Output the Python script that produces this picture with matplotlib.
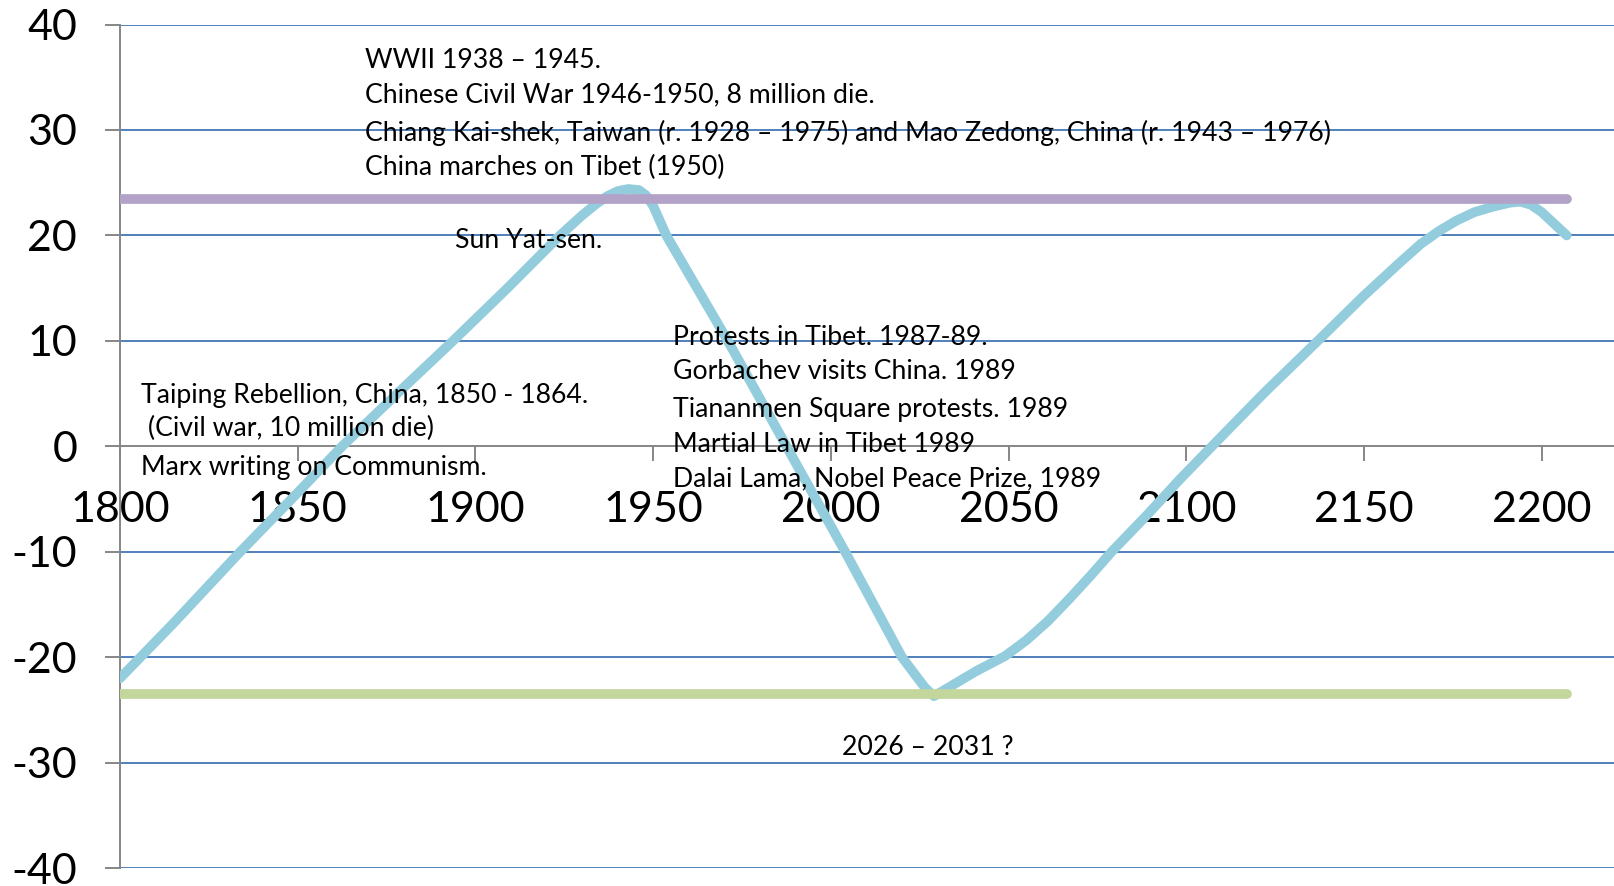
import matplotlib.pyplot as plt

# cycle curve
years = [1800, 1815, 1833, 1850, 1862.5, 1878, 1893.7, 1909, 1923.8, 1930, 1934, 1937,
         1940, 1943, 1946, 1948, 1950, 1953.7, 1971, 1987.5, 2004, 2020, 2024, 2026.5,
         2029, 2032, 2035, 2041, 2049, 2055, 2061, 2067, 2073, 2079, 2089, 2098,
         2107.5, 2122, 2137, 2150, 2160, 2166, 2171, 2176, 2181, 2186, 2191, 2194,
         2197, 2200, 2207]
values = [-22.0, -16.8, -10.3, -4.4, 0.0, 5.0, 10.0, 15.0, 20.0, 21.9, 23.0, 23.7,
          24.2, 24.4, 24.3, 23.8, 22.8, 20.0, 10.0, 0.0, -10.0, -20.0, -21.8, -22.9,
          -23.7, -23.1, -22.5, -21.3, -19.9, -18.4, -16.6, -14.5, -12.3, -10.0, -6.5, -3.2,
          0.1, 5.1, 10.0, 14.3, 17.4, 19.2, 20.4, 21.4, 22.2, 22.7, 23.1, 23.2,
          22.9, 22.2, 20.0]

band_x = [1800, 2207]
upper = [23.5, 23.5]
lower = [-23.5, -23.5]

x_ticks = [1800, 1850, 1900, 1950, 2000, 2050, 2100, 2150, 2200]
y_ticks = [-40, -30, -20, -10, 0, 10, 20, 30, 40]

# (x year, y value, text)
notes = [
    (1869.0, 36.6, 'WWII 1938 \u2013 1945.'),
    (1869.0, 33.3, 'Chinese Civil War 1946-1950, 8 million die.'),
    (1869.0, 29.7, 'Chiang Kai-shek, Taiwan (r. 1928 \u2013 1975) and Mao Zedong, China (r. 1943 \u2013 1976)'),
    (1869.0, 26.4, 'China marches on Tibet (1950)'),
    (1894.2, 19.5, 'Sun Yat-sen.'),
    (1955.7, 10.3, 'Protests in Tibet. 1987-89.'),
    (1955.7, 7.1, 'Gorbachev visits China. 1989'),
    (1955.7, 3.5, 'Tiananmen Square protests. 1989'),
    (1955.7, 0.15, 'Martial Law in Tibet 1989'),
    (1955.7, -3.05, 'Dalai Lama, Nobel Peace Prize, 1989'),
    (1805.9, 4.8, 'Taiping Rebellion, China, 1850 - 1864.'),
    (1805.9, 1.7, ' (Civil war, 10 million die)'),
    (1805.9, -2.0, 'Marx writing on Communism.'),
    (2003.0, -28.6, '2026 \u2013 2031 ?'),
]

plt.rcParams['font.family'] = ['Lato', 'DejaVu Sans']
plt.rcParams['axes.unicode_minus'] = False

fig = plt.figure(figsize=(16.15, 8.86), dpi=100)
ax = fig.add_axes([0.0743, 0.0203, 0.9257, 0.952])

ax.plot(years, values, color='#93CDDD', lw=7, solid_capstyle='round',
        solid_joinstyle='round', zorder=3)
ax.plot(band_x, upper, color='#B3A2C7', lw=7, solid_capstyle='round', zorder=4)
ax.plot(band_x, lower, color='#C3D69B', lw=7, solid_capstyle='round', zorder=4)

for x, y, s in notes:
    ax.text(x, y, s, fontsize=19.2, va='center', ha='left', color='black', zorder=5)

ax.set_xlim(1800, 2220.6)
ax.set_ylim(-40, 40)
ax.set_xticks(x_ticks)
ax.set_yticks(y_ticks)

for v in y_ticks:
    if v != 0:
        ax.axhline(v, color='#4F81BD', lw=1.4, zorder=1)

for side in ['top', 'right']:
    ax.spines[side].set_visible(False)
ax.spines['bottom'].set_position(('data', 0))
ax.spines['bottom'].set_color('#868686')
ax.spines['left'].set_color('#868686')
ax.spines['bottom'].set_linewidth(1.4)
ax.spines['left'].set_linewidth(1.4)
ax.spines['bottom'].set_zorder(2)

ax.tick_params(axis='both', direction='out', length=10.8, width=1.4,
               color='#868686', labelsize=31)
ax.tick_params(axis='y', pad=20)
ax.tick_params(axis='x', pad=21.5)

fig.savefig('out.png', dpi=100)
